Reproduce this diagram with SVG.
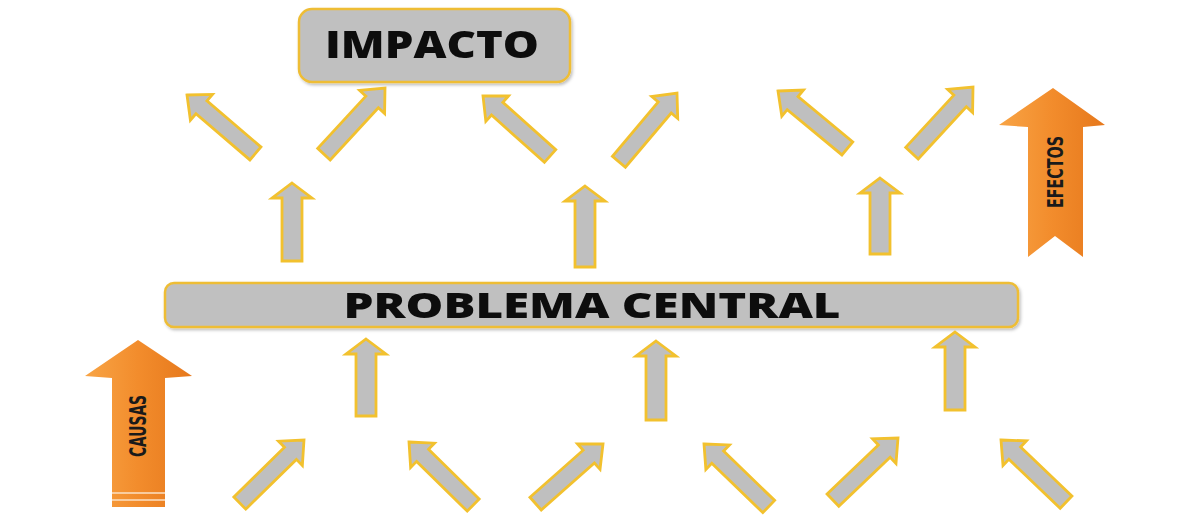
<svg xmlns="http://www.w3.org/2000/svg" width="1180" height="520" viewBox="0 0 1180 520">
  <defs>
    <style>
      .box { fill: #c0c0c0; stroke: #eebd35; stroke-width: 2.5; }
      .arr { fill: #bfbfbf; stroke: #f2c12e; stroke-width: 2.8; stroke-linejoin: miter; }
      .big { font-family: "Open Sans", "Liberation Sans", sans-serif; font-weight: 800; fill: #0d0d0d; text-anchor: middle; }
      .side { font-family: "DejaVu Sans Condensed", "Liberation Sans", sans-serif; font-weight: bold; fill: #1a1a1a; text-anchor: middle; }
      .orange { fill: url(#og); }
    </style>
    <linearGradient id="og" x1="0" y1="0" x2="1" y2="0">
      <stop offset="0" stop-color="#f8a445"/>
      <stop offset="0.5" stop-color="#f28c2c"/>
      <stop offset="1" stop-color="#e6781c"/>
    </linearGradient>
    <filter id="sh" x="-5%" y="-20%" width="110%" height="150%">
      <feDropShadow dx="1.5" dy="2" stdDeviation="1.5" flood-color="#000" flood-opacity="0.25"/>
    </filter>
    <path id="diag" d="M0,0 L17,19 L8.5,19 L8.5,90 L-8.5,90 L-8.5,19 L-17,19 Z"/>
  </defs>

  <g id="impacto" filter="url(#sh)">
    <rect class="box" x="299" y="9" width="271" height="73" rx="13"/>
    <text class="big" x="432" y="58" font-size="37" textLength="214" lengthAdjust="spacingAndGlyphs">IMPACTO</text>
  </g>

  <g id="problema-central" filter="url(#sh)">
    <rect class="box" x="165" y="283" width="853" height="44" rx="9"/>
    <text class="big" x="592" y="318" font-size="35" textLength="497" lengthAdjust="spacingAndGlyphs">PROBLEMA CENTRAL</text>
  </g>

  <g id="efectos">
    <path class="orange" d="M1053,88 L1105,125 L1083,127 L1083,257 L1055,236 L1028,257 L1028,127 L999,125 Z"/>
    <text class="side" transform="translate(1063,172) rotate(-90)" font-size="22" textLength="72" lengthAdjust="spacingAndGlyphs">EFECTOS</text>
  </g>

  <g id="causas">
    <path class="orange" d="M138,340 L192,376 L165,378 L165,507 L112,507 L112,378 L85,376 Z"/>
    <line x1="112" y1="493" x2="165" y2="493" stroke="#fbe0c4" stroke-width="1.5"/>
    <line x1="112" y1="500" x2="165" y2="500" stroke="#fbe0c4" stroke-width="1.5"/>
    <text class="side" transform="translate(146,426) rotate(-90)" font-size="23" textLength="62" lengthAdjust="spacingAndGlyphs">CAUSAS</text>
  </g>

  <g id="connectors">
    <!-- straight up arrows, upper row -->
    <path class="arr" d="M292,183 L312,198 L302,198 L302,261 L282,261 L282,198 L272,198 Z"/>
    <path class="arr" d="M585,186 L605,201 L595,201 L595,267 L575,267 L575,201 L565,201 Z"/>
    <path class="arr" d="M880,178 L900,193 L890,193 L890,254 L870,254 L870,193 L860,193 Z"/>
    <!-- straight up arrows, lower row -->
    <path class="arr" d="M366,339 L386,354 L376,354 L376,416 L356,416 L356,354 L346,354 Z"/>
    <path class="arr" d="M656,341 L676,356 L666,356 L666,420 L646,420 L646,356 L636,356 Z"/>
    <path class="arr" d="M955,332 L975,347 L965,347 L965,410 L945,410 L945,347 L935,347 Z"/>
    <!-- diagonal arrows, upper row -->
    <use href="#diag" class="arr" transform="translate(187,95) rotate(-49.5)"/>
    <use href="#diag" class="arr" transform="translate(385,88) rotate(42.7)"/>
    <use href="#diag" class="arr" transform="translate(483,96) rotate(-48.2)"/>
    <use href="#diag" class="arr" transform="translate(677,93) rotate(40.2)"/>
    <use href="#diag" class="arr" transform="translate(778,91) rotate(-50.4)"/>
    <use href="#diag" class="arr" transform="translate(973,87) rotate(42.7)"/>
    <!-- diagonal arrows, lower row -->
    <use href="#diag" class="arr" transform="translate(304,440) rotate(45.5)"/>
    <use href="#diag" class="arr" transform="translate(409,442) rotate(-45.5)"/>
    <use href="#diag" class="arr" transform="translate(603,444) rotate(48.5)"/>
    <use href="#diag" class="arr" transform="translate(704,444) rotate(-46)"/>
    <use href="#diag" class="arr" transform="translate(898,438) rotate(46.3)"/>
    <use href="#diag" class="arr" transform="translate(1001,440) rotate(-46.3)"/>
  </g>
</svg>
